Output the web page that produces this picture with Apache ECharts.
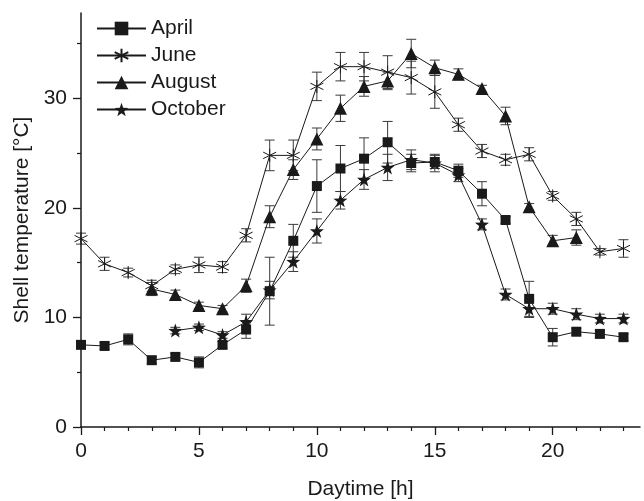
<!DOCTYPE html>
<html>
<head>
<meta charset="utf-8">
<script src="https://cdn.jsdelivr.net/npm/echarts@6/dist/echarts.min.js"></script>
<style>
  html, body { margin: 0; padding: 0; background: #fff; }
  #chart { width: 644px; height: 501px; }
</style>
</head>
<body>
<div id="chart"></div>
<script>
// daytime hours
const hours = [0, 1, 2, 3, 4, 5, 6, 7, 8, 9, 10, 11, 12, 13, 14, 15, 16, 17, 18, 19, 20, 21, 22, 23]

// shell temperature (°C) and error bar half length per month
const april = [7.5, 7.4, 8.0, 6.1, 6.4, 5.9, 7.5, 8.9, 12.4, 17.0, 22.0, 23.6, 24.5, 26.0, 24.1, 24.2, 23.4, 21.3, 18.9, 11.7, 8.2, 8.7, 8.5, 8.2]
const aprilErr = [0.3, 0.3, 0.5, 0.3, 0.3, 0.5, 0.3, 0.8, 3.1, 1.5, 2.4, 2.1, 1.9, 1.9, 0.8, 0.6, 0.6, 1.1, 0.3, 1.6, 0.8, 0.3, 0.3, 0.3]

const june = [17.2, 14.9, 14.1, 12.9, 14.4, 14.8, 14.6, 17.5, 24.8, 24.8, 31.1, 32.9, 32.9, 32.4, 31.9, 30.6, 27.6, 25.2, 24.4, 24.9, 21.1, 19.0, 16.0, 16.3]
const juneErr = [0.5, 0.6, 0.4, 0.5, 0.4, 0.7, 0.5, 0.6, 1.4, 1.4, 1.3, 1.3, 1.3, 1.5, 1.5, 1.5, 0.6, 0.6, 0.5, 0.6, 0.4, 0.6, 0.3, 0.8]

const august = [null, null, null, 12.6, 12.1, 11.1, 10.8, 12.9, 19.2, 23.5, 26.3, 29.1, 31.1, 31.6, 34.1, 32.8, 32.2, 30.9, 28.4, 20.1, 17.0, 17.3, null, null]
const augustErr = [null, null, null, 0.6, 0.4, 0.3, 0.3, 0.6, 1.0, 0.9, 1.0, 1.2, 0.9, 0.8, 1.3, 0.7, 0.5, 0.3, 0.8, 0.3, 0.5, 0.7, null, null]

const october = [null, null, null, null, 8.8, 9.1, 8.4, 9.6, 12.5, 15.1, 17.9, 20.7, 22.6, 23.7, 24.4, 24.1, 23.0, 18.5, 12.1, 10.8, 10.8, 10.3, 9.9, 9.9]
const octoberErr = [null, null, null, null, 0.3, 0.3, 0.3, 0.7, 0.8, 0.9, 1.1, 0.8, 0.9, 1.2, 0.9, 0.8, 0.6, 0.5, 0.5, 0.8, 0.5, 0.5, 0.4, 0.4]

// axis ticks
const xMajorTicks = [0, 5, 10, 15, 20]
const xMinorTicks = [1, 2, 3, 4, 6, 7, 8, 9, 11, 12, 13, 14, 16, 17, 18, 19, 21, 22, 23]
const yMajorTicks = [0, 10, 20, 30]
const yMinorTicks = [5, 15, 25, 35]

const FONT = 'Liberation Sans, Arial, sans-serif'
const FS = 21
const INK = '#1a1a1a'

const starPath = 'path://M0,-100L23.5,-32.4L95.1,-30.9L38,12.4L58.8,80.9L0,40L-58.8,80.9L-38,12.4L-95.1,-30.9L-23.5,-32.4Z'
const asteriskPath = 'path://M0,-100L0,100M-86.6,-50L86.6,50M-86.6,50L86.6,-50'

function pairs(vals) {
  return hours.map((h, i) => [h, vals[i]])
}

function errRows(vals, errs) {
  const rows = []
  hours.forEach((h, i) => {
    if (vals[i] == null) return
    rows.push([h, vals[i] - errs[i], vals[i] + errs[i]])
  })
  return rows
}

function renderErr(params, api) {
  const x = api.value(0)
  const lo = api.coord([x, api.value(1)])
  const hi = api.coord([x, api.value(2)])
  const w = 5
  const style = { stroke: '#3a3a3a', lineWidth: 1 }
  return {
    type: 'group',
    children: [
      { type: 'line', shape: { x1: lo[0], y1: lo[1], x2: hi[0], y2: hi[1] }, style: style },
      { type: 'line', shape: { x1: lo[0] - w, y1: lo[1], x2: lo[0] + w, y2: lo[1] }, style: style },
      { type: 'line', shape: { x1: hi[0] - w, y1: hi[1], x2: hi[0] + w, y2: hi[1] }, style: style }
    ]
  }
}

function errSeries(vals, errs) {
  return {
    type: 'custom',
    renderItem: renderErr,
    data: errRows(vals, errs),
    encode: { x: 0, y: [1, 2] },
    z: 1,
    silent: true
  }
}

function lineSeries(name, vals, symbol, size, hollow) {
  return {
    name: name,
    type: 'line',
    data: pairs(vals),
    symbol: symbol,
    symbolSize: size,
    showAllSymbol: true,
    lineStyle: { color: INK, width: 1 },
    itemStyle: hollow
      ? { color: 'none', borderColor: INK, borderWidth: 1 }
      : { color: INK, borderWidth: 0 },
    z: 3
  }
}

const chart = echarts.init(document.getElementById('chart'), null, { renderer: 'canvas' })

chart.setOption({
  animation: false,
  backgroundColor: '#fff',
  textStyle: { fontFamily: FONT },
  grid: { left: 81, right: 4, top: 13, bottom: 74, containLabel: false, outerBoundsMode: 'none' },
  legend: {
    data: ['April', 'June', 'August', 'October'],
    orient: 'vertical',
    left: 96,
    top: 18,
    padding: 0,
    itemWidth: 49,
    itemHeight: 17,
    itemGap: 6,
    textStyle: { fontFamily: FONT, fontSize: FS, color: INK }
  },
  xAxis: [{
    type: 'value',
    min: 0,
    max: 23.7,
    position: 'bottom',
    name: 'Daytime [h]',
    nameLocation: 'middle',
    nameGap: 52,
    nameTextStyle: { fontFamily: FONT, fontSize: FS, color: INK },
    axisLine: { lineStyle: { color: INK, width: 1.5 } },
    axisTick: { customValues: xMajorTicks, length: 8, lineStyle: { color: INK, width: 1.3 } },
    axisLabel: { customValues: xMajorTicks, fontFamily: FONT, fontSize: FS, color: INK, margin: 14 },
    splitLine: { show: false }
  }, {
    type: 'value',
    min: 0,
    max: 23.7,
    position: 'bottom',
    axisLine: { show: false },
    axisTick: { customValues: xMinorTicks, length: 4, lineStyle: { color: INK, width: 1.2 } },
    axisLabel: { show: false },
    splitLine: { show: false }
  }],
  yAxis: [{
    type: 'value',
    min: 0,
    max: 37.8,
    position: 'left',
    name: 'Shell temperature [°C]',
    nameLocation: 'middle',
    nameGap: 48,
    nameTextStyle: { fontFamily: FONT, fontSize: FS, color: INK },
    axisLine: { lineStyle: { color: INK, width: 1.5 } },
    axisTick: { customValues: yMajorTicks, length: 8, lineStyle: { color: INK, width: 1.3 } },
    axisLabel: { customValues: yMajorTicks, fontFamily: FONT, fontSize: FS, color: INK, margin: 14 },
    splitLine: { show: false }
  }, {
    type: 'value',
    min: 0,
    max: 37.8,
    position: 'left',
    axisLine: { show: false },
    axisTick: { customValues: yMinorTicks, length: 4, lineStyle: { color: INK, width: 1.2 } },
    axisLabel: { show: false },
    splitLine: { show: false }
  }],
  series: [
    errSeries(april, aprilErr),
    errSeries(june, juneErr),
    errSeries(august, augustErr),
    errSeries(october, octoberErr),
    lineSeries('April', april, 'rect', 10, false),
    lineSeries('June', june, asteriskPath, 13, true),
    lineSeries('August', august, 'triangle', 13, false),
    lineSeries('October', october, starPath, 14, false)
  ]
})
</script>
</body>
</html>
